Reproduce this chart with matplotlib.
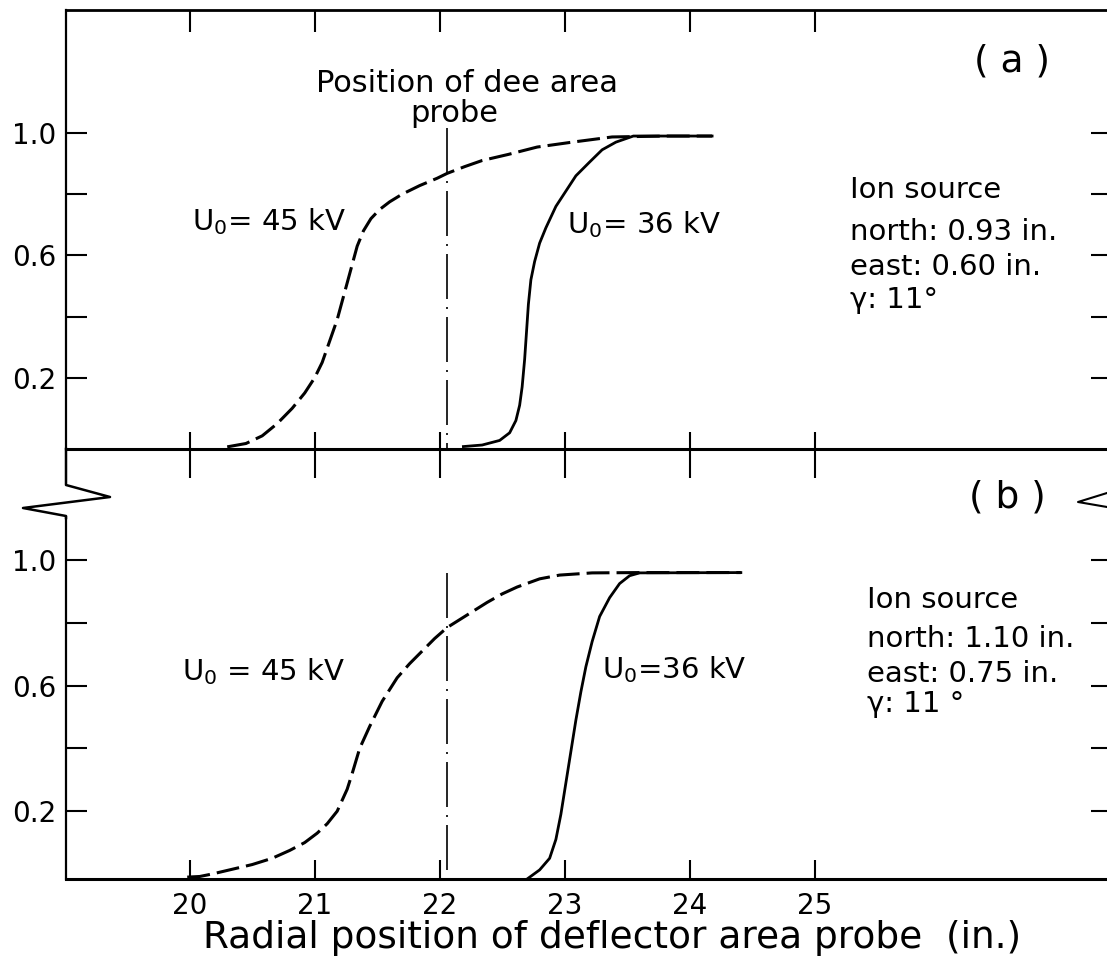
import numpy as np
import matplotlib.pyplot as plt
from matplotlib.lines import Line2D

plt.rcParams['font.family'] = ['DejaVu Sans']
plt.rcParams['mathtext.default'] = 'regular'

# axis ticks
x_ticks = [20, 21, 22, 23, 24, 25]
x_labels = ['20', '21', '22', '23', '24', '25']
y_ticks = [0.2, 0.4, 0.6, 0.8, 1.0]
y_labels = ['0.2', '', '0.6', '', '1.0']
probe_x = 22.06

# (a) ion source north 0.93 in., east 0.60 in.
a_45_x = [20.30, 20.45, 20.58, 20.70, 20.82, 20.92, 21.00, 21.06, 21.12, 21.18,
          21.22, 21.26, 21.30, 21.34, 21.39, 21.45, 21.52, 21.60, 21.70, 21.84,
          21.98, 22.06, 22.20, 22.34, 22.55, 22.78, 23.06, 23.38, 23.80, 24.18]
a_45_y = [-0.026, -0.015, 0.01, 0.05, 0.10, 0.15, 0.20, 0.25, 0.32, 0.39,
          0.45, 0.51, 0.57, 0.63, 0.68, 0.72, 0.75, 0.775, 0.80, 0.828,
          0.852, 0.868, 0.89, 0.91, 0.93, 0.954, 0.97, 0.987, 0.99, 0.99]
a_36_x = [22.19, 22.34, 22.48, 22.56, 22.61, 22.64, 22.66, 22.68, 22.695, 22.71,
          22.73, 22.76, 22.80, 22.85, 22.93, 23.01, 23.09, 23.20, 23.30, 23.41,
          23.55, 23.80, 24.18]
a_36_y = [-0.025, -0.02, -0.005, 0.02, 0.06, 0.11, 0.17, 0.26, 0.35, 0.44,
          0.52, 0.58, 0.64, 0.69, 0.76, 0.81, 0.86, 0.905, 0.945, 0.97,
          0.99, 0.99, 0.99]

# (b) ion source north 1.10 in., east 0.75 in.
b_45_x = [19.98, 20.08, 20.18, 20.34, 20.50, 20.66, 20.80, 20.92, 21.02, 21.10,
          21.18, 21.26, 21.30, 21.36, 21.44, 21.54, 21.66, 21.76, 21.86, 21.96,
          22.06, 22.22, 22.38, 22.50, 22.62, 22.80, 22.96, 23.22, 23.60, 24.41]
b_45_y = [-0.01, -0.008, 0.0, 0.015, 0.03, 0.05, 0.075, 0.10, 0.13, 0.16,
          0.20, 0.27, 0.32, 0.40, 0.47, 0.55, 0.625, 0.67, 0.71, 0.75,
          0.785, 0.825, 0.865, 0.892, 0.914, 0.94, 0.952, 0.959, 0.96, 0.96]
b_36_x = [22.70, 22.80, 22.88, 22.93, 22.97, 23.01, 23.05, 23.09, 23.13, 23.17,
          23.22, 23.28, 23.36, 23.44, 23.52, 23.60, 24.41]
b_36_y = [-0.016, 0.013, 0.05, 0.11, 0.19, 0.29, 0.39, 0.49, 0.58, 0.66,
          0.74, 0.82, 0.88, 0.925, 0.95, 0.959, 0.96]

W, H = 1107, 977
fig = plt.figure(figsize=(W / 100, H / 100), dpi=100)


def box(l, t, r, b):
    return [l / W, 1 - b / H, (r - l) / W, (b - t) / H]


def fig_line(px, py, lw=1.8):
    px = np.array(px) / W
    py = 1 - np.array(py) / H
    fig.add_artist(Line2D(px, py, transform=fig.transFigure, color='black', lw=lw))


ax_a = fig.add_axes(box(66, 10, 1112, 449))
ax_b = fig.add_axes(box(66, 517, 1112, 879))


def style(ax, ylim):
    ax.set_xlim(19.01, 27.38)
    ax.set_ylim(*ylim)
    ax.spines['right'].set_visible(False)
    ax.spines['top'].set_visible(False)
    ax.spines['left'].set_linewidth(1.6)
    ax.spines['bottom'].set_linewidth(2.2)
    ax.set_yticks(y_ticks)
    ax.set_yticklabels(y_labels)
    ax.tick_params(axis='y', direction='in', length=15, width=1.5,
                   left=True, right=True, labelsize=20, pad=7)
    ax.set_xticks(x_ticks)


style(ax_a, (-0.033, 1.402))
style(ax_b, (-0.016, 1.137))

# top panel: ticks on the top spine and ticks crossing the bottom spine
ax_a.xaxis.remove_overlapping_locs = False
ax_a.set_xticks(x_ticks, minor=True)
ax_a.tick_params(axis='x', which='major', direction='in', length=12, width=1.5,
                 labelbottom=False)
ax_a.tick_params(axis='x', which='minor', direction='out', length=21, width=1.5,
                 top=False)
top = ax_a.secondary_xaxis('top')
top.set_xticks(x_ticks)
top.tick_params(direction='in', length=16, width=1.5, labeltop=False)
top.spines['top'].set_linewidth(2.0)

ax_b.set_xticklabels(x_labels)
ax_b.tick_params(axis='x', direction='in', length=14, width=1.5,
                 labelsize=20, pad=9)

# curves
for ax, x45, y45, x36, y36 in [(ax_a, a_45_x, a_45_y, a_36_x, a_36_y),
                               (ax_b, b_45_x, b_45_y, b_36_x, b_36_y)]:
    ax.plot(x45, y45, color='black', lw=2.2, dashes=(7.5, 2.3))
    ax.plot(x36, y36, color='black', lw=2.0)

ax_a.plot([probe_x, probe_x], [1.016, -0.033], color='black', lw=1.2,
          dashes=(27, 4.8, 1.2, 4.8))
ax_b.plot([probe_x, probe_x], [0.96, -0.016], color='black', lw=1.2,
          dashes=(27, 4.8, 1.2, 4.8))

# labels
ax_a.text(22.22, 1.134, 'Position of dee area', fontsize=22, ha='center', va='baseline')
ax_a.text(22.12, 1.036, 'probe', fontsize=22, ha='center', va='baseline')
ax_a.text(20.02, 0.683, 'U$_0$= 45 kV', fontsize=21, ha='left', va='baseline')
ax_a.text(23.02, 0.673, 'U$_0$= 36 kV', fontsize=21, ha='left', va='baseline')
ax_b.text(19.94, 0.618, 'U$_0$ = 45 kV', fontsize=21, ha='left', va='baseline')
ax_b.text(23.30, 0.624, 'U$_0$=36 kV', fontsize=21, ha='left', va='baseline')

ax_a.text(26.58, 1.235, '( a )', fontsize=27, ha='center', va='center')
ax_b.text(26.54, 1.20, '( b )', fontsize=27, ha='center', va='center')

for txt, yy in zip(['Ion source', 'north: 0.93 in.', 'east: 0.60 in.', 'γ: 11°'],
                   [0.788, 0.650, 0.536, 0.428]):
    ax_a.text(25.28, yy, txt, fontsize=21, ha='left', va='baseline')
for txt, yy in zip(['Ion source', 'north: 1.10 in.', 'east: 0.75 in.', 'γ: 11 °'],
                   [0.847, 0.723, 0.611, 0.516]):
    ax_b.text(25.42, yy, txt, fontsize=21, ha='left', va='baseline')

fig.text(612 / W, 1 - 938 / H, 'Radial position of deflector area probe  (in.)',
         fontsize=27, ha='center', va='center')

# axis break marks
fig_line([66, 66, 110, 23, 66, 66], [449, 485, 497, 508, 516, 518])
fig_line([1107, 1078, 1107], [493, 502, 507], lw=1.5)

fig.savefig('out.png', dpi=100)
